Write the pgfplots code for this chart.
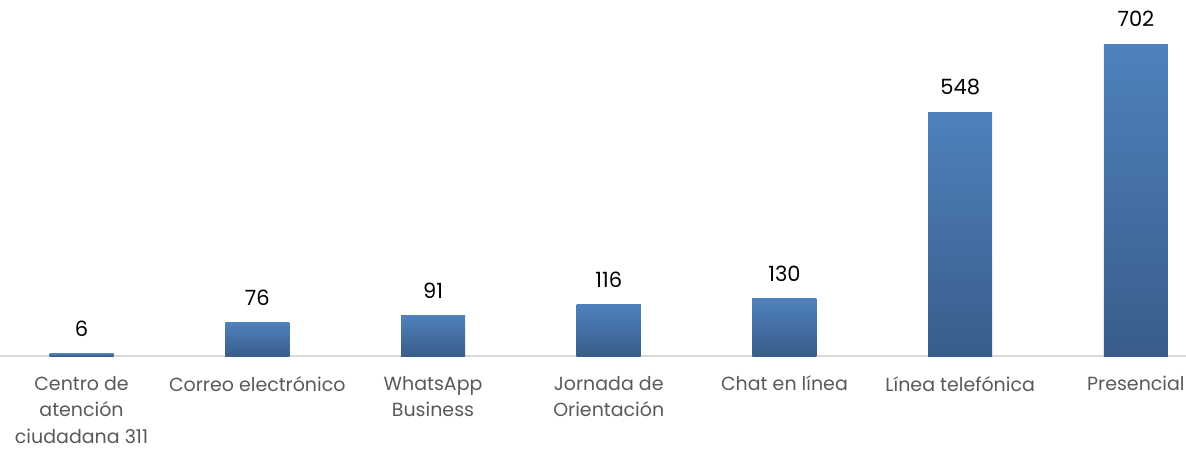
\documentclass[border=0pt]{standalone}
\usepackage{fontspec}
\setmainfont{Poppins}
\usepackage{pgfplots}
\pgfplotsset{compat=1.18}
\definecolor{bartop}{HTML}{4F81BD}
\definecolor{barbot}{HTML}{385D8A}
\definecolor{axgray}{HTML}{D9D9D9}
\definecolor{labgray}{HTML}{595959}

\begin{document}
\begin{tikzpicture}
  \begin{axis}[
    name=main,
    scale only axis,
    width=593pt, height=178pt,
    xmin=-0.464, xmax=6.285,
    ymin=0, ymax=801,
    ybar, bar width=32pt, bar shift=0pt,
    axis x line*=bottom,
    axis y line=none,
    x axis line style={draw=axgray, line width=0.8pt, -},
    xtick={0,1,2,3,4,5,6},
    xticklabels={Centro de\\atención\\ciudadana 311, Correo electrónico, WhatsApp\\Business, Jornada de\\Orientación, Chat en línea, Línea telefónica, Presencial},
    major tick length=0pt,
    xticklabel style={align=center, font=\fontsize{9.5}{13.3}\selectfont, text=labgray, yshift=-6.5pt},
    ytick=\empty,
    nodes near coords,
    every node near coord/.append style={font=\fontsize{10.5}{12}\selectfont, text=black, yshift=5pt},
    /pgf/number format/assume math mode=true,
    every axis plot/.append style={draw=none, top color=bartop, bottom color=barbot},
  ]
  \addplot coordinates {(0,6)};
  \addplot coordinates {(1,76)};
  \addplot coordinates {(2,91)};
  \addplot coordinates {(3,116)};
  \addplot coordinates {(4,130)};
  \addplot coordinates {(5,548)};
  \addplot coordinates {(6,702)};
  \end{axis}
  \pgfresetboundingbox
  \path (main.north west) rectangle ([yshift=-46pt]main.south east);
\end{tikzpicture}
\end{document}
